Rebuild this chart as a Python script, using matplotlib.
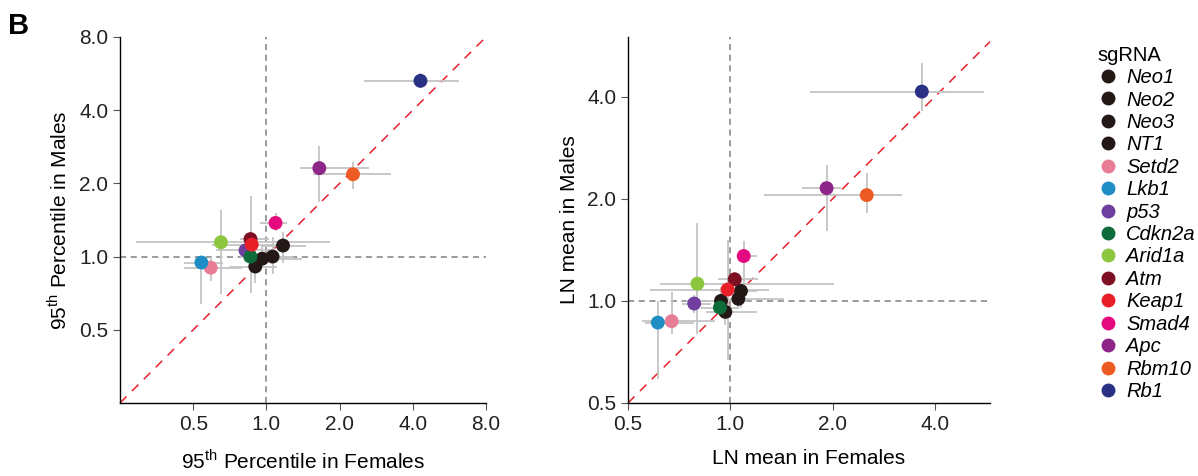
import numpy as np
import matplotlib
matplotlib.use("Agg")
import matplotlib.pyplot as plt
from matplotlib.lines import Line2D

plt.rcParams['font.family'] = ['Liberation Sans', 'DejaVu Sans']

# sgRNAs and colours
sgrna = ['Neo1', 'Neo2', 'Neo3', 'NT1', 'Setd2', 'Lkb1', 'p53', 'Cdkn2a',
         'Arid1a', 'Atm', 'Keap1', 'Smad4', 'Apc', 'Rbm10', 'Rb1']
colors = ['#231815', '#231815', '#231815', '#231815', '#E97C95', '#1E8DC4',
          '#6F3E9E', '#0E6B3A', '#8CC63F', '#7D1023', '#E9202A', '#E5097F',
          '#8E2589', '#EE5A24', '#2A3185']

# 95th percentile (Females x, Males y) with interval bounds
p95_f = [1.17, 1.06, 0.96, 0.90, 0.59, 0.54, 0.82, 0.86, 0.65, 0.86, 0.87, 1.09, 1.65, 2.27, 4.30]
p95_m = [1.11, 1.00, 0.98, 0.91, 0.90, 0.945, 1.06, 1.00, 1.145, 1.18, 1.12, 1.375, 2.31, 2.18, 5.28]
p95_f_lo = [0.95, 0.85, 0.80, 0.70, 0.457, 0.46, 0.62, 0.78, 0.29, 0.78, 0.60, 0.94, 1.37, 1.55, 2.53]
p95_f_hi = [1.45, 1.30, 1.40, 1.10, 0.794, 0.66, 1.05, 0.95, 1.83, 1.02, 1.20, 1.22, 2.64, 3.26, 6.18]
p95_m_lo = [0.94, 0.85, 0.90, 0.78, 0.797, 0.64, 0.95, 0.85, 0.70, 0.707, 1.00, 1.27, 1.68, 1.89, 4.91]
p95_m_hi = [1.26, 1.20, 1.10, 1.10, 1.00, 1.00, 1.15, 1.10, 1.55, 1.78, 1.25, 1.51, 2.86, 2.45, 5.66]

# LN mean (Females x, Males y) with interval bounds
ln_f = [1.075, 1.056, 0.939, 0.967, 0.672, 0.612, 0.783, 0.932, 0.80, 1.03, 0.982, 1.095, 1.92, 2.52, 3.66]
ln_m = [1.07, 1.014, 1.00, 0.928, 0.871, 0.863, 0.982, 0.956, 1.124, 1.158, 1.08, 1.356, 2.15, 2.05, 4.14]
ln_f_lo = [0.98, 0.90, 0.74, 0.85, 0.55, 0.56, 0.72, 0.82, 0.62, 0.92, 0.58, 1.06, 1.62, 1.26, 1.72]
ln_f_hi = [1.20, 1.44, 1.12, 1.20, 0.90, 0.78, 0.877, 1.06, 2.02, 1.21, 1.30, 1.20, 2.12, 3.21, 5.57]
ln_m_lo = [0.95, 0.96, 0.90, 0.85, 0.80, 0.59, 0.92, 0.90, 0.80, 1.10, 0.67, 1.12, 1.61, 1.81, 3.64]
ln_m_hi = [1.15, 1.08, 1.10, 1.00, 1.06, 1.00, 1.04, 1.01, 1.70, 1.22, 1.51, 1.50, 2.51, 2.38, 5.03]

ticks_left = [0.5, 1.0, 2.0, 4.0, 8.0]
ticks_right = [0.5, 1.0, 2.0, 4.0]

fig = plt.figure(figsize=(11.98, 4.76), dpi=100)
ax1 = fig.add_axes([0.1002, 0.1534, 0.3055, 0.769])
ax2 = fig.add_axes([0.5242, 0.1534, 0.302, 0.769])


def panel(ax, xs, ys, xlo, xhi, ylo, yhi, lims, xticks, yticks, xlabel, ylabel):
    xs = np.array(xs); ys = np.array(ys)
    xerr = [xs - np.array(xlo), np.array(xhi) - xs]
    yerr = [ys - np.array(ylo), np.array(yhi) - ys]
    ax.set_xscale('log', base=2)
    ax.set_yscale('log', base=2)
    ax.set_xlim(lims[0], lims[1])
    ax.set_ylim(lims[2], lims[3])
    ax.axvline(1.0, color='#808080', ls=(0, (4, 3)), lw=1.1, zorder=1)
    ax.axhline(1.0, color='#808080', ls=(0, (4, 3)), lw=1.1, zorder=1)
    lo = min(lims[0], lims[2]); hi = max(lims[1], lims[3])
    ax.plot([lo, hi], [lo, hi], color='#E8202A', ls=(0, (6, 5)), lw=1.1, zorder=1)
    ax.errorbar(xs, ys, xerr=xerr, yerr=yerr, fmt='none', ecolor='#c4c4c4',
                elinewidth=1.3, capsize=0, zorder=2)
    ax.scatter(xs, ys, s=100, c=colors, edgecolors='none', zorder=3)
    ax.set_xticks(xticks)
    ax.set_xticklabels(['%.1f' % t for t in xticks])
    ax.set_yticks(yticks)
    ax.set_yticklabels(['%.1f' % t for t in yticks])
    ax.minorticks_off()
    ax.tick_params(labelsize=15, length=5, width=0.8, color='#555555', labelcolor='#222222')
    for s in ['top', 'right']:
        ax.spines[s].set_visible(False)
    for s in ['left', 'bottom']:
        ax.spines[s].set_linewidth(1.0)
    ax.set_xlabel(xlabel, fontsize=15, labelpad=11)
    ax.set_ylabel(ylabel, fontsize=15, labelpad=6)


sup = r'$^{\mathregular{th}}$'
panel(ax1, p95_f, p95_m, p95_f_lo, p95_f_hi, p95_m_lo, p95_m_hi,
      (0.25, 8.0, 0.25, 8.0), ticks_left, ticks_left,
      '95' + sup + ' Percentile in Females', '95' + sup + ' Percentile in Males')
panel(ax2, ln_f, ln_m, ln_f_lo, ln_f_hi, ln_m_lo, ln_m_hi,
      (0.5, 5.8, 0.5, 6.0), ticks_right, ticks_right,
      'LN mean in Females', 'LN mean in Males')

fig.text(0.007, 0.975, 'B', fontsize=21, fontweight='bold', va='top')

handles = [Line2D([], [], ls='none', marker='o', markersize=9, color=c) for c in colors]
leg = fig.legend(handles, sgrna, loc='upper left', bbox_to_anchor=(0.909, 0.921),
                 frameon=False, title='sgRNA', title_fontsize=14.5,
                 prop={'style': 'italic', 'size': 14.5}, handletextpad=0.35,
                 labelspacing=0.17, handlelength=1.1, borderaxespad=0)
leg._legend_box.align = 'left'

fig.savefig('out.png', dpi=100)
